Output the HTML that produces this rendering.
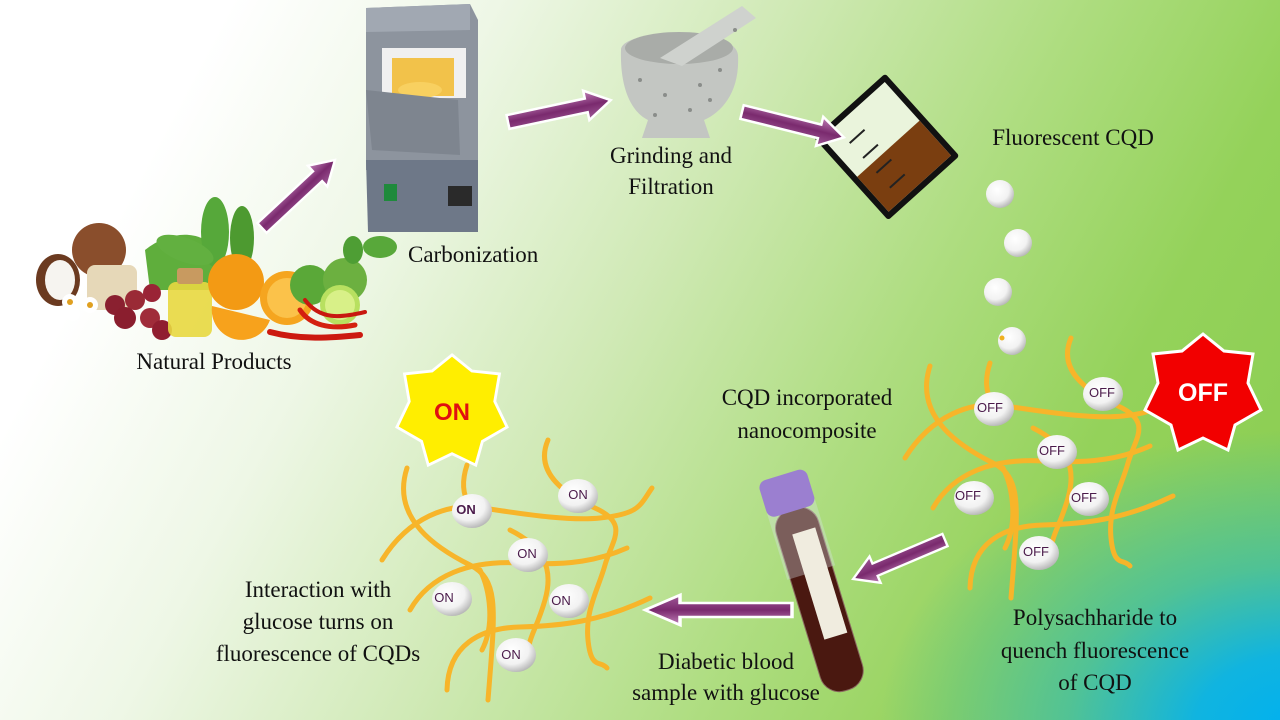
<!DOCTYPE html>
<html><head><meta charset="utf-8"><style>
html,body{margin:0;padding:0;}
body{width:1280px;height:720px;overflow:hidden;position:relative;
background:
radial-gradient(ellipse 420px 300px at 1300px 730px,#00b0f0 0%,#10b4e0 25%,rgba(60,190,170,0.75) 55%,rgba(140,205,80,0) 100%),
linear-gradient(118deg,#ffffff 0%,#ffffff 14%,#eef7e6 30%,#cfe9b4 48%,#aedd80 65%,#94d25a 80%,#88cc50 100%);
font-family:"Liberation Serif",serif;}
svg{position:absolute;left:0;top:0;}
.t{font-family:"Liberation Serif",serif;font-size:23px;fill:#111;}
.b{font-family:"Liberation Sans",sans-serif;font-size:13px;fill:#4a1a4a;}
</style></head><body>
<svg width="1280" height="720" viewBox="0 0 1280 720">
<defs>
<radialGradient id="ball" cx="0.4" cy="0.35" r="0.7">
<stop offset="0" stop-color="#ffffff"/><stop offset="0.6" stop-color="#f2f2f2"/><stop offset="1" stop-color="#b0b0b0"/>
</radialGradient>
<linearGradient id="arr" x1="0" y1="0" x2="0" y2="1">
<stop offset="0" stop-color="#c080b8"/><stop offset="0.5" stop-color="#7a2a6e"/><stop offset="1" stop-color="#a05a98"/>
</linearGradient>
<g id="arrow">
<path d="M0,-7 L80,-7 L80,-15 L105,0 L80,15 L80,7 L0,7 Z" fill="url(#arr)" stroke="#ffffff" stroke-width="2.5"/>
</g>
<g id="net" fill="none" stroke="#f7b52a" stroke-width="5" stroke-linecap="round">
<path d="M407,468 C390,520 440,550 470,565 S495,610 488,700"/>
<path d="M382,560 C410,515 450,505 473,507 S560,522 600,518 S640,505 652,488"/>
<path d="M548,440 C535,470 560,492 595,508 S612,540 605,565 S585,610 588,640 S600,660 607,668"/>
<path d="M410,610 C430,575 470,560 520,563 S600,560 627,548"/>
<path d="M447,690 C448,645 480,628 520,627 S600,622 650,598"/>
<path d="M467,465 C462,480 462,495 470,505"/>
<path d="M510,530 C540,545 555,565 545,600 S525,640 530,660"/>
<path d="M480,570 C490,590 495,625 482,650"/>
</g>
<g id="star">
<polygon points="0,-58 21,-41 50,-38 45,-9 58,18 32,33 25,58 0,46 -25,58 -32,33 -58,18 -45,-9 -50,-38 -21,-41" stroke="#fff" stroke-width="3"/>
</g>
</defs>

<!-- natural products -->
<g>
<path d="M145,250 C170,230 200,230 215,248 L220,290 L150,290 Z" fill="#5fae3c"/>
<ellipse cx="215" cy="232" rx="14" ry="35" fill="#56a83a"/>
<ellipse cx="242" cy="238" rx="12" ry="32" fill="#4d9a30"/>
<ellipse cx="185" cy="250" rx="30" ry="12" fill="#62b040" transform="rotate(20 185 250)"/>
<circle cx="99" cy="250" r="27" fill="#8a4e2c"/>
<ellipse cx="58" cy="280" rx="22" ry="26" fill="#6b3a20"/>
<ellipse cx="60" cy="280" rx="15" ry="20" fill="#f6f4f0"/>
<rect x="87" y="265" width="50" height="45" rx="8" fill="#e6d8b8"/>
<circle cx="70" cy="302" r="8" fill="#fff"/><circle cx="90" cy="305" r="8" fill="#fff"/><circle cx="73" cy="314" r="7" fill="#fff"/>
<circle cx="70" cy="302" r="3" fill="#e0a020"/><circle cx="90" cy="305" r="3" fill="#e0a020"/>
<circle cx="115" cy="305" r="10" fill="#8a2030"/><circle cx="135" cy="300" r="10" fill="#9a2a36"/><circle cx="125" cy="318" r="11" fill="#8a1e2e"/><circle cx="150" cy="318" r="10" fill="#a02c3a"/><circle cx="162" cy="330" r="10" fill="#901e30"/><circle cx="152" cy="293" r="9" fill="#9a2436"/>
<rect x="168" y="282" width="44" height="55" rx="8" fill="#e8d840" opacity="0.9"/>
<rect x="177" y="268" width="26" height="16" rx="3" fill="#c89a60"/>
<circle cx="236" cy="282" r="28" fill="#f39a14"/>
<path d="M212,306 A30,30 0 0 0 270,320 Z" fill="#f7a21c"/>
<circle cx="287" cy="298" r="27" fill="#f5a51f"/>
<circle cx="287" cy="298" r="20" fill="#fbc24a"/>
<circle cx="310" cy="285" r="20" fill="#5aa838"/>
<circle cx="345" cy="280" r="22" fill="#6cb040"/>
<circle cx="340" cy="305" r="20" fill="#b8e060"/>
<circle cx="340" cy="305" r="15" fill="#d8f088"/>
<ellipse cx="380" cy="247" rx="17" ry="11" fill="#58a83a"/>
<ellipse cx="353" cy="250" rx="10" ry="14" fill="#4e9e34"/>
<path d="M270,332 C300,340 330,338 360,335" stroke="#cc1a10" stroke-width="6" fill="none" stroke-linecap="round"/>
<path d="M300,310 C310,325 330,330 355,325" stroke="#d42010" stroke-width="5" fill="none" stroke-linecap="round"/>
<path d="M305,300 C320,320 340,318 365,312" stroke="#c81810" stroke-width="4" fill="none" stroke-linecap="round"/>
</g>

<!-- furnace -->
<g>
<path d="M366,8 L470,4 L478,20 L478,170 L366,170 Z" fill="#8d949e"/>
<path d="M366,8 L470,4 L470,30 L366,32 Z" fill="#a1a8b2"/>
<rect x="382" y="48" width="84" height="50" fill="#f0f0f0"/>
<rect x="392" y="58" width="62" height="38" fill="#f2c24a"/>
<ellipse cx="420" cy="90" rx="22" ry="8" fill="#f8d060"/>
<path d="M366,90 L458,100 L460,155 L372,150 Z" fill="#7e858f"/>
<path d="M366,160 L478,160 L478,232 L368,232 Z" fill="#6e7888"/>
<rect x="384" y="184" width="13" height="17" fill="#1f8a3c"/>
<rect x="448" y="186" width="24" height="20" fill="#2a2a2a"/>
</g>

<!-- mortar -->
<g>
<path d="M621,50 C621,28 736,26 738,55 C740,92 722,112 704,120 L710,138 L642,138 L648,120 C628,110 620,82 621,50 Z" fill="#c3c6c2"/>
<ellipse cx="679" cy="48" rx="54" ry="16" fill="#a9aca8"/>
<path d="M660,58 L742,6 L756,18 L682,66 Z" fill="#cfd2ce"/>
<g fill="#8a8d8a"><circle cx="640" cy="80" r="2"/><circle cx="665" cy="95" r="2"/><circle cx="700" cy="85" r="2"/><circle cx="720" cy="70" r="2"/><circle cx="655" cy="115" r="2"/><circle cx="690" cy="110" r="2"/><circle cx="710" cy="100" r="2"/><circle cx="735" cy="30" r="2"/></g>
</g>

<!-- beaker -->
<g transform="rotate(-42 885 145)">
<path d="M840,95 L930,95 L930,200 L840,200 Z" fill="#eaf4dc" stroke="#111" stroke-width="6" stroke-linejoin="round"/>
<rect x="843" y="150" width="84" height="47" fill="#7a3e10"/>
<line x1="860" y1="120" x2="880" y2="120" stroke="#222" stroke-width="2"/>
<line x1="860" y1="140" x2="880" y2="140" stroke="#222" stroke-width="2"/>
<line x1="860" y1="160" x2="880" y2="160" stroke="#222" stroke-width="2"/>
<line x1="860" y1="180" x2="880" y2="180" stroke="#222" stroke-width="2"/>
</g>

<!-- falling dots -->
<circle cx="1000" cy="194" r="14" fill="url(#ball)"/>
<circle cx="1018" cy="243" r="14" fill="url(#ball)"/>
<circle cx="998" cy="292" r="14" fill="url(#ball)"/>
<circle cx="1012" cy="341" r="14" fill="url(#ball)"/>
<circle cx="1002" cy="338" r="2.5" fill="#f0b020"/>

<!-- arrows -->
<use href="#arrow" transform="translate(262,228) rotate(-43) scale(0.95)"/>
<use href="#arrow" transform="translate(508,122) rotate(-12)"/>
<use href="#arrow" transform="translate(742,112) rotate(14)"/>
<use href="#arrow" transform="translate(945,540) rotate(157) scale(0.95)"/>
<use href="#arrow" transform="translate(792,610) rotate(180) scale(1.4,1)"/>

<!-- networks -->
<use href="#net"/>
<use href="#net" transform="translate(523,-102)"/>

<!-- ON balls -->
<g>
<ellipse cx="472" cy="511" rx="20" ry="17" fill="url(#ball)"/>
<ellipse cx="578" cy="496" rx="20" ry="17" fill="url(#ball)"/>
<ellipse cx="528" cy="555" rx="20" ry="17" fill="url(#ball)"/>
<ellipse cx="452" cy="599" rx="20" ry="17" fill="url(#ball)"/>
<ellipse cx="569" cy="601" rx="20" ry="17" fill="url(#ball)"/>
<ellipse cx="516" cy="655" rx="20" ry="17" fill="url(#ball)"/>
<text x="466" y="514" class="b" text-anchor="middle" font-weight="bold">ON</text>
<text x="578" y="499" class="b" text-anchor="middle">ON</text>
<text x="527" y="558" class="b" text-anchor="middle">ON</text>
<text x="444" y="602" class="b" text-anchor="middle">ON</text>
<text x="561" y="605" class="b" text-anchor="middle">ON</text>
<text x="511" y="659" class="b" text-anchor="middle">ON</text>
</g>
<!-- OFF balls -->
<g>
<ellipse cx="994" cy="409" rx="20" ry="17" fill="url(#ball)"/>
<ellipse cx="1103" cy="394" rx="20" ry="17" fill="url(#ball)"/>
<ellipse cx="1057" cy="452" rx="20" ry="17" fill="url(#ball)"/>
<ellipse cx="974" cy="498" rx="20" ry="17" fill="url(#ball)"/>
<ellipse cx="1089" cy="499" rx="20" ry="17" fill="url(#ball)"/>
<ellipse cx="1039" cy="553" rx="20" ry="17" fill="url(#ball)"/>
<text x="990" y="412" class="b" text-anchor="middle">OFF</text>
<text x="1102" y="397" class="b" text-anchor="middle">OFF</text>
<text x="1052" y="455" class="b" text-anchor="middle">OFF</text>
<text x="968" y="500" class="b" text-anchor="middle">OFF</text>
<text x="1084" y="502" class="b" text-anchor="middle">OFF</text>
<text x="1036" y="556" class="b" text-anchor="middle">OFF</text>
</g>

<!-- stars -->
<use href="#star" transform="translate(452,410) scale(0.95)" fill="#ffee00"/>
<text x="452" y="420" text-anchor="middle" font-family="Liberation Sans,sans-serif" font-weight="bold" font-size="24" fill="#e01010">ON</text>
<use href="#star" transform="translate(1203,392)" fill="#f20000"/>
<text x="1203" y="401" text-anchor="middle" font-family="Liberation Sans,sans-serif" font-weight="bold" font-size="25" fill="#ffffff">OFF</text>

<!-- blood tube -->
<g transform="rotate(-17 815 585)">
<rect x="793" y="505" width="44" height="190" rx="20" fill="#4a1810" stroke="#8a6a60" stroke-width="1"/>
<rect x="790" y="502" width="50" height="70" fill="#d8e2e8" opacity="0.35"/>
<rect x="808" y="530" width="24" height="110" fill="#f0ecdf"/>
<rect x="790" y="470" width="50" height="38" rx="8" fill="#9b7fd0"/>
</g>

<!-- labels -->
<text x="408" y="262" class="t">Carbonization</text>
<text x="671" y="163" class="t" text-anchor="middle">Grinding and</text>
<text x="671" y="194" class="t" text-anchor="middle">Filtration</text>
<text x="1073" y="145" class="t" text-anchor="middle">Fluorescent CQD</text>
<text x="214" y="369" class="t" text-anchor="middle">Natural Products</text>
<text x="807" y="405" class="t" text-anchor="middle">CQD incorporated</text>
<text x="807" y="438" class="t" text-anchor="middle">nanocomposite</text>
<text x="318" y="597" class="t" text-anchor="middle">Interaction with</text>
<text x="318" y="629" class="t" text-anchor="middle">glucose turns on</text>
<text x="318" y="661" class="t" text-anchor="middle">fluorescence of CQDs</text>
<text x="726" y="669" class="t" text-anchor="middle">Diabetic blood</text>
<text x="726" y="700" class="t" text-anchor="middle">sample with glucose</text>
<text x="1095" y="625" class="t" text-anchor="middle">Polysachharide to</text>
<text x="1095" y="658" class="t" text-anchor="middle">quench fluorescence</text>
<text x="1095" y="690" class="t" text-anchor="middle">of CQD</text>
</svg>
</body></html>
